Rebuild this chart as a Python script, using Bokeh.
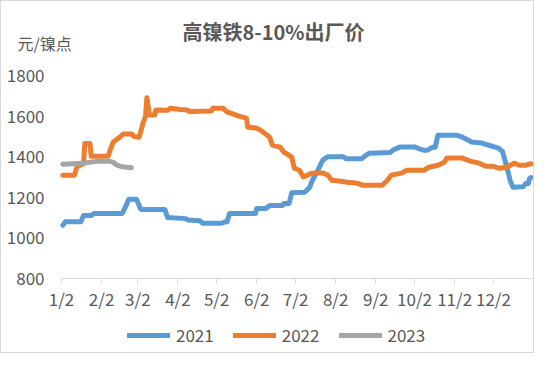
from bokeh.plotting import figure
from bokeh.models import Range1d, Label, Legend, LegendItem, FixedTicker
from bokeh.embed import file_html
from bokeh.resources import INLINE

# x = days since Jan 2
tick_days = [0, 31, 59, 90, 120, 151, 181, 212, 243, 273, 304, 334]
tick_labels = ["1/2", "2/2", "3/2", "4/2", "5/2", "6/2", "7/2", "8/2", "9/2", "10/2", "11/2", "12/2"]
y_ticks = [800, 1000, 1200, 1400, 1600, 1800]
series_names = ["2021", "2022", "2023"]

d2021 = [1, 3, 15, 17, 23, 25, 47, 50, 52, 58, 61, 62, 80, 82, 96, 98, 107, 109, 124, 126, 128, 130, 150, 151, 158, 161, 171, 172, 176, 178, 188, 192, 194, 198, 202, 206, 218, 220, 232, 235, 238, 254, 257, 262, 273, 276, 280, 283, 287, 289, 291, 306, 310, 315, 317, 325, 331, 338, 341, 343, 345, 347, 349, 357, 359, 361, 362, 363]
v2021 = [1062, 1080, 1080, 1110, 1110, 1120, 1120, 1160, 1190, 1190, 1145, 1140, 1140, 1100, 1095, 1088, 1085, 1072, 1072, 1078, 1080, 1120, 1120, 1145, 1145, 1160, 1160, 1170, 1170, 1222, 1225, 1250, 1284, 1330, 1383, 1400, 1400, 1390, 1390, 1405, 1417, 1420, 1435, 1448, 1448, 1440, 1432, 1432, 1447, 1447, 1505, 1505, 1496, 1480, 1472, 1467, 1455, 1442, 1425, 1380, 1333, 1280, 1250, 1252, 1268, 1268, 1294, 1297]

d2022 = [1, 10, 12, 15, 17, 18, 22, 23, 36, 38, 40, 45, 48, 54, 56, 60, 62, 63, 65, 66, 67, 68, 72, 73, 82, 84, 92, 97, 99, 116, 117, 125, 128, 132, 137, 143, 144, 151, 155, 158, 161, 163, 169, 172, 178, 180, 184, 187, 190, 194, 202, 206, 209, 216, 221, 229, 233, 248, 252, 255, 263, 267, 280, 284, 291, 296, 298, 310, 316, 323, 328, 334, 338, 344, 350, 354, 359, 363]
v2022 = [1309, 1309, 1350, 1360, 1365, 1465, 1465, 1402, 1402, 1440, 1472, 1496, 1512, 1512, 1500, 1496, 1540, 1565, 1600, 1690, 1650, 1605, 1605, 1630, 1628, 1638, 1632, 1630, 1622, 1625, 1638, 1638, 1620, 1612, 1600, 1590, 1546, 1540, 1526, 1510, 1495, 1457, 1447, 1422, 1398, 1343, 1333, 1300, 1309, 1319, 1320, 1309, 1284, 1279, 1274, 1269, 1259, 1259, 1284, 1309, 1319, 1333, 1333, 1348, 1358, 1373, 1393, 1393, 1378, 1368, 1353, 1353, 1343, 1348, 1368, 1358, 1358, 1365]

d2023 = [1, 16, 29, 37, 40, 43, 47, 54]
v2023 = [1363, 1368, 1378, 1378, 1372, 1358, 1350, 1345]

FONT = "Noto Sans CJK SC"
TXT = "#595959"

# the plot frame covers the whole canvas; both axes are pinned inside it
p = figure(width=534, height=353, output_backend="svg", toolbar_location=None,
           x_range=Range1d(-46.4, 366.5), y_range=Range1d(426, 2164),
           min_border_left=0, min_border_right=0, min_border_top=0, min_border_bottom=0)
p.outline_line_color = None
p.grid.visible = False
p.styles = {"border": "1px solid #d9d9d9"}

r1 = p.line(d2021, v2021, line_color="#5B9BD5", line_width=5, line_cap="round", line_join="round")
r2 = p.line(d2022, v2022, line_color="#ED7D31", line_width=5, line_cap="round", line_join="round")
r3 = p.line(d2023, v2023, line_color="#A5A5A5", line_width=5, line_cap="round", line_join="round")

xa = p.xaxis[0]
xa.fixed_location = y_ticks[0]
xa.bounds = (tick_days[0], 364)
xa.ticker = FixedTicker(ticks=tick_days)
xa.major_label_overrides = {d: l for d, l in zip(tick_days, tick_labels)}
xa.axis_line_color = "#d9d9d9"
xa.major_tick_line_color = "#d9d9d9"
xa.major_tick_in = 0
xa.major_tick_out = 5
xa.minor_tick_line_color = None
xa.major_label_text_font = FONT
xa.major_label_text_font_size = "17px"
xa.major_label_text_color = TXT
xa.major_label_standoff = 2

ya = p.yaxis[0]
ya.fixed_location = tick_days[0]
ya.ticker = FixedTicker(ticks=y_ticks)
ya.axis_line_color = None
ya.major_tick_line_color = None
ya.minor_tick_line_color = None
ya.major_tick_in = 0
ya.major_tick_out = 0
ya.major_label_standoff = 17
ya.major_label_text_font = FONT
ya.major_label_text_font_size = "17px"
ya.major_label_text_color = TXT

p.add_layout(Label(x=272, y=323, x_units="screen", y_units="screen", text="高镍铁8-10%出厂价",
                   text_font=FONT, text_font_size="20px", text_font_style="bold",
                   text_color=TXT, text_align="center", text_baseline="middle"))
p.add_layout(Label(x=16, y=312, x_units="screen", y_units="screen", text="元/镍点",
                   text_font=FONT, text_font_size="16px",
                   text_color=TXT, text_align="left", text_baseline="middle"))

legend = Legend(items=[LegendItem(label=n, renderers=[r]) for n, r in zip(series_names, [r1, r2, r3])],
                orientation="horizontal", location=(126, 7),
                glyph_width=43, glyph_height=16, label_standoff=6, spacing=19,
                label_text_font=FONT, label_text_font_size="17px", label_text_color=TXT,
                background_fill_alpha=0, border_line_color=None, padding=0, margin=0)
p.add_layout(legend, "center")

open("out.html", "w").write(file_html(p, INLINE))
